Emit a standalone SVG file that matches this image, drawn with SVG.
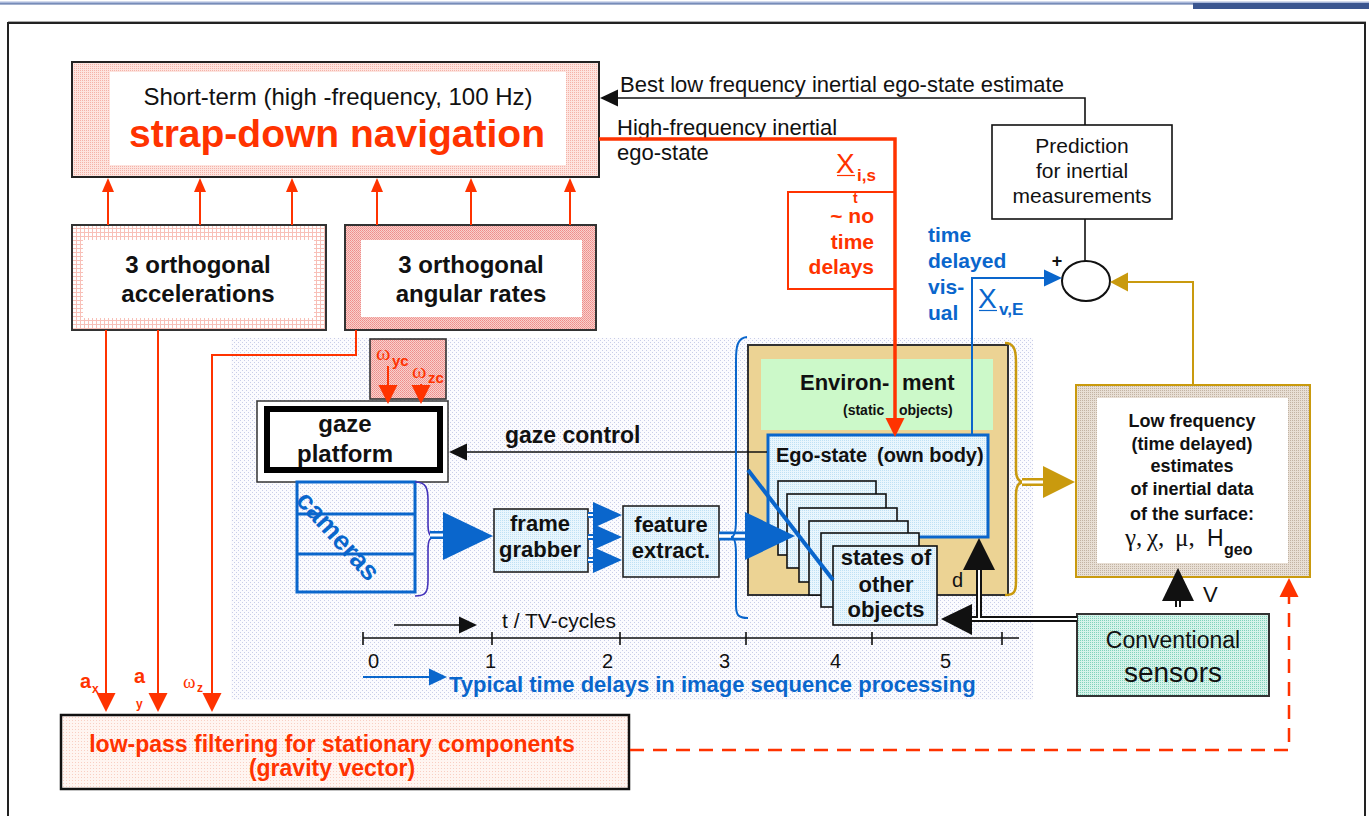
<svg xmlns="http://www.w3.org/2000/svg" width="1369" height="816" viewBox="0 0 1369 816">
<style>
text { font-family: "Liberation Sans", Arial, sans-serif; fill: #111; }
.b { font-weight: bold; }
.red { fill: #ff3300; }
.blue { fill: #0a66cc; }
.c { text-anchor: middle; }
.e { text-anchor: end; }
.serif { font-family: "Liberation Serif", "Times New Roman", serif; }
.box { stroke: #222; stroke-width: 2; }
.rl { fill: none; stroke: #ff3300; stroke-width: 2; }
.bk { fill: none; stroke: #111; stroke-width: 1.6; }
</style>
<defs>
<pattern id="pPinkL" width="2" height="2" patternUnits="userSpaceOnUse"><rect width="2" height="2" fill="#fde4df"/><rect width="1" height="1" fill="#f4b2a8"/></pattern>
<pattern id="pPinkD" width="2" height="2" patternUnits="userSpaceOnUse"><rect width="2" height="2" fill="#f9d0cc"/><rect width="1" height="1" fill="#ee8d8b"/><rect x="1" y="1" width="1" height="1" fill="#f09c98"/></pattern>
<pattern id="pGrid" width="4" height="4" patternUnits="userSpaceOnUse"><rect width="4" height="4" fill="#fff"/><rect width="4" height="1" fill="#f8c0b8"/><rect width="1" height="4" fill="#f8c0b8"/></pattern>
<pattern id="pBg" width="4" height="4" patternUnits="userSpaceOnUse"><rect width="4" height="4" fill="#fbfbfe"/><rect width="1" height="1" fill="#c8cde8"/><rect x="2" y="2" width="1" height="1" fill="#c8cde8"/></pattern>
<pattern id="pBlue" width="2" height="2" patternUnits="userSpaceOnUse"><rect width="2" height="2" fill="#eaf6fd"/><rect width="1" height="1" fill="#bfe1f4"/></pattern>
<pattern id="pTeal" width="2" height="2" patternUnits="userSpaceOnUse"><rect width="2" height="2" fill="#d6f3ea"/><rect width="1" height="1" fill="#80d3bb"/></pattern>
<pattern id="pBeige" width="2" height="2" patternUnits="userSpaceOnUse"><rect width="2" height="2" fill="#e8dfd5"/><rect width="1" height="1" fill="#c2b3a3"/></pattern>
<pattern id="pLow" width="3" height="3" patternUnits="userSpaceOnUse"><rect width="3" height="3" fill="#fff5f1"/><rect width="1" height="1" fill="#f9cfc3"/></pattern>
<marker id="aRed" markerUnits="userSpaceOnUse" markerWidth="14" markerHeight="12" refX="1" refY="6" orient="auto" overflow="visible"><path d="M0,0 L14,6 L0,12 z" fill="#ff3300"/></marker>
<marker id="aRedL" markerUnits="userSpaceOnUse" markerWidth="19" markerHeight="19" refX="1" refY="9.5" orient="auto" overflow="visible"><path d="M0,0 L19,9.5 L0,19 z" fill="#ff3300"/></marker>
<marker id="aBlk" markerUnits="userSpaceOnUse" markerWidth="18" markerHeight="17" refX="1" refY="8.5" orient="auto" overflow="visible"><path d="M0,0 L18,8.5 L0,17 z" fill="#111"/></marker>
<marker id="aBlue" markerUnits="userSpaceOnUse" markerWidth="18" markerHeight="17" refX="1" refY="8.5" orient="auto" overflow="visible"><path d="M0,0 L18,8.5 L0,17 z" fill="#0a66cc"/></marker>
<marker id="aGold" markerUnits="userSpaceOnUse" markerWidth="18" markerHeight="19" refX="1" refY="9.5" orient="auto" overflow="visible"><path d="M0,0 L18,9.5 L0,19 z" fill="#c99a0e"/></marker>
</defs>

<!-- page frame -->
<rect width="1369" height="816" fill="#fff"/>
<line x1="0" y1="2.2" x2="1369" y2="2.2" stroke="#a9b8da" stroke-width="1.5"/>
<line x1="0" y1="3.8" x2="1369" y2="3.8" stroke="#4a66a0" stroke-width="1.2"/>
<rect x="1193" y="3" width="176" height="6" fill="#3b5690"/>
<line x1="8" y1="21.5" x2="1366" y2="21.5" stroke="#aaa" stroke-width="1"/>
<path d="M8,816 V23 H1365 V816" fill="none" stroke="#222" stroke-width="2"/>

<!-- dotted background region -->
<rect x="231" y="338" width="802" height="362" fill="url(#pBg)"/>

<g id="strapdown">
<rect x="72" y="62" width="527" height="115" fill="url(#pPinkL)" class="box"/>
<rect x="110" y="72" width="456" height="93" fill="#fff"/>
<text x="338" y="105" class="c" font-size="24">Short-term (high -frequency, 100 Hz)</text>
<text x="337" y="147" class="c b red" font-size="39">strap-down navigation</text>
</g>

<g id="accelerations">
<rect x="72" y="225" width="254" height="105" fill="url(#pGrid)" stroke="#333" stroke-width="2"/>
<rect x="83" y="240" width="231" height="78" fill="#fff"/>
<text x="198" y="273" class="c b" font-size="24">3 orthogonal</text>
<text x="198" y="302" class="c b" font-size="24">accelerations</text>
</g>

<g id="angular-rates">
<rect x="345" y="225" width="251" height="105" fill="url(#pPinkD)" stroke="#333" stroke-width="2"/>
<rect x="361" y="240" width="221" height="77" fill="#fff"/>
<text x="471" y="273" class="c b" font-size="24">3 orthogonal</text>
<text x="471" y="302" class="c b" font-size="24">angular rates</text>
</g>

<g id="prediction">
<rect x="992" y="125" width="180" height="94" fill="#fff" stroke="#111" stroke-width="1.6"/>
<text x="1082" y="153" class="c" font-size="21">Prediction</text>
<text x="1082" y="178" class="c" font-size="21">for inertial</text>
<text x="1082" y="203" class="c" font-size="21">measurements</text>
</g>

<g id="sum-junction">
<ellipse cx="1086" cy="281" rx="24" ry="20" fill="#fff" stroke="#111" stroke-width="2"/>
<text x="1057" y="267" class="c b" font-size="18">+</text>
</g>

<g id="omega-box">
<rect x="370" y="339" width="76" height="60" fill="url(#pPinkD)" stroke="#333" stroke-width="1.6"/>
<text x="376" y="360" class="serif red" font-size="22">ω</text>
<text x="392" y="366" class="b red" font-size="15">yc</text>
<text x="412" y="378" class="serif red" font-size="22">ω</text>
<text x="428" y="383" class="b red" font-size="15">zc</text>
</g>

<g id="gaze-platform">
<rect x="257" y="401" width="191" height="81" fill="#fff" stroke="#333" stroke-width="1.5"/>
<rect x="267" y="409" width="173" height="61" fill="#fff" stroke="#000" stroke-width="6"/>
<text x="345" y="432" class="c b" font-size="24">gaze</text>
<text x="345" y="462" class="c b" font-size="24">platform</text>
</g>

<g id="cameras">
<rect x="297" y="482" width="118" height="110" fill="none" stroke="#0a66cc" stroke-width="3"/>
<line x1="297" y1="514" x2="415" y2="514" stroke="#0a66cc" stroke-width="3"/>
<line x1="297" y1="554" x2="415" y2="554" stroke="#0a66cc" stroke-width="3"/>
<text transform="translate(338,536) rotate(48)" x="0" y="9" class="c b blue" font-size="27">cameras</text>
<path d="M415,482 C426,482 428,488 428,500 V525 C428,533 430,537 434,537 C430,537 428,541 428,549 V580 C428,592 426,596 415,596" fill="none" stroke="#4433bb" stroke-width="1.6"/>
</g>

<g id="frame-grabber">
<rect x="494" y="509" width="94" height="63" fill="url(#pBlue)" stroke="#222" stroke-width="1.6"/>
<text x="540" y="531" class="c b" font-size="22">frame</text>
<text x="540" y="557" class="c b" font-size="22">grabber</text>
</g>

<g id="feature-extract">
<rect x="623" y="506" width="96" height="71" fill="url(#pBlue)" stroke="#222" stroke-width="1.6"/>
<text x="671" y="532" class="c b" font-size="22">feature</text>
<text x="671" y="558" class="c b" font-size="22">extract.</text>
</g>

<g id="environment">
<rect x="748" y="345" width="260" height="250" fill="#ecd394" stroke="#333" stroke-width="2"/>
<rect x="761" y="359" width="232" height="71" fill="#ccf9c9"/>
<text x="800" y="390" class="b" font-size="22">Environ-</text>
<text x="902" y="390" class="b" font-size="22">ment</text>
<text x="843" y="415" class="b" font-size="14">(static</text>
<text x="899" y="415" class="b" font-size="14">objects)</text>
<text x="952" y="587" font-size="20">d</text>
</g>

<g id="ego-state">
<rect x="768" y="435" width="220" height="102" fill="url(#pBlue)" stroke="#0a66cc" stroke-width="3"/>
<text x="776" y="462" class="b" font-size="20">Ego-state</text>
<text x="877" y="462" class="b" font-size="20">(own body)</text>
</g>

<g id="other-objects">
<rect x="778" y="481" width="98" height="74" fill="url(#pBlue)" stroke="#111" stroke-width="1.6"/>
<rect x="787" y="494" width="99" height="74" fill="url(#pBlue)" stroke="#111" stroke-width="1.6"/>
<rect x="799" y="508" width="98" height="74" fill="url(#pBlue)" stroke="#111" stroke-width="1.6"/>
<rect x="809" y="521" width="99" height="74" fill="url(#pBlue)" stroke="#111" stroke-width="1.6"/>
<rect x="821" y="533" width="98" height="74" fill="url(#pBlue)" stroke="#111" stroke-width="1.6"/>
<rect x="833" y="546" width="104" height="79" fill="url(#pBlue)" stroke="#111" stroke-width="1.6"/>
<text x="886" y="565" class="c b" font-size="22">states of</text>
<text x="886" y="592" class="c b" font-size="22">other</text>
<text x="886" y="617" class="c b" font-size="22">objects</text>
</g>

<g id="low-frequency">
<rect x="1076" y="385" width="234" height="192" fill="url(#pBeige)" stroke="#c99a0e" stroke-width="2"/>
<rect x="1097" y="398" width="191" height="165" fill="#fff"/>
<text x="1192" y="427" class="c b" font-size="18">Low frequency</text>
<text x="1192" y="450" class="c b" font-size="18">(time delayed)</text>
<text x="1192" y="472" class="c b" font-size="18">estimates</text>
<text x="1192" y="495" class="c b" font-size="18">of inertial data</text>
<text x="1192" y="520" class="c b" font-size="18">of the surface:</text>
<text y="546" class="serif" font-size="25"><tspan x="1125">γ,</tspan><tspan x="1147">χ,</tspan><tspan x="1175">μ,</tspan></text>
<text x="1207" y="546" font-size="23">H</text>
<text x="1224" y="555" class="b" font-size="16">geo</text>
</g>

<g id="conventional-sensors">
<rect x="1077" y="614" width="192" height="82" fill="url(#pTeal)" stroke="#333" stroke-width="2"/>
<text x="1173" y="648" class="c" font-size="23">Conventional</text>
<text x="1173" y="682" class="c" font-size="28">sensors</text>
</g>

<g id="low-pass">
<rect x="61" y="715" width="568" height="74" fill="url(#pLow)" stroke="#111" stroke-width="2.5"/>
<text x="332" y="752" class="c b red" font-size="23">low-pass filtering for stationary components</text>
<text x="332" y="776" class="c b red" font-size="23">(gravity vector)</text>
</g>

<g id="timeline">
<path d="M363,638 H1019 M363,632 V645 M492,632 V645 M620,632 V645 M746,632 V645 M872,632 V645 M1002,632 V645" class="bk"/>
<text x="368" y="668" font-size="20">0</text>
<text x="485" y="668" font-size="20">1</text>
<text x="602" y="668" font-size="20">2</text>
<text x="719" y="668" font-size="20">3</text>
<text x="830" y="668" font-size="20">4</text>
<text x="940" y="668" font-size="20">5</text>
<path d="M394,625 H460" class="bk" marker-end="url(#aBlk)"/>
<text x="502" y="628" font-size="21">t / TV-cycles</text>
<path d="M363,677 H430" fill="none" stroke="#0a66cc" stroke-width="1.8" marker-end="url(#aBlue)"/>
<text x="449" y="692" class="b blue" font-size="22">Typical time delays in image sequence processing</text>
</g>

<g id="connectors">
<!-- into strap-down -->
<path d="M108,225 V191" class="rl" marker-end="url(#aRed)"/>
<path d="M200,225 V191" class="rl" marker-end="url(#aRed)"/>
<path d="M292,225 V191" class="rl" marker-end="url(#aRed)"/>
<path d="M377,225 V191" class="rl" marker-end="url(#aRed)"/>
<path d="M471,225 V191" class="rl" marker-end="url(#aRed)"/>
<path d="M570,225 V191" class="rl" marker-end="url(#aRed)"/>
<!-- to low-pass -->
<path d="M106,330 V694" class="rl" marker-end="url(#aRedL)"/>
<path d="M158,330 V694" class="rl" marker-end="url(#aRedL)"/>
<path d="M356,330 V355 H212 V694" class="rl" marker-end="url(#aRedL)"/>
<text x="80" y="688" class="b red" font-size="20">a</text>
<text x="92" y="693" class="b red" font-size="12">x</text>
<text x="134" y="683" class="b red" font-size="20">a</text>
<text x="136" y="708" class="b red" font-size="12">y</text>
<text x="183" y="688" class="serif red" font-size="19">ω</text>
<text x="197" y="692" class="b red" font-size="12">z</text>
<!-- omega arrows -->
<path d="M388,366 V386" class="rl" marker-end="url(#aRedL)"/>
<path d="M421,384 V386" class="rl" marker-end="url(#aRedL)"/>
<!-- best estimate -->
<path d="M1085,125 V98 H617" class="bk" marker-end="url(#aBlk)"/>
<text x="620" y="92" font-size="22">Best low frequency inertial ego-state estimate</text>
<!-- high-frequency ego-state -->
<text x="617" y="135" font-size="22">High-frequency inertial</text>
<text x="617" y="160" font-size="22">ego-state</text>
<rect x="788" y="192" width="107" height="97" fill="none" stroke="#ff3300" stroke-width="2"/>
<path d="M599,139 H895 V419" fill="none" stroke="#ff3300" stroke-width="3.5" marker-end="url(#aRedL)"/>
<text x="836" y="173" class="red" font-size="28">X</text>
<line x1="837" y1="175.5" x2="855" y2="175.5" stroke="#ff3300" stroke-width="1.2"/>
<text x="857" y="181" class="b red" font-size="17">i,s</text>
<text x="853" y="203" class="b red" font-size="14">t</text>
<text x="874" y="223" class="e b red" font-size="21">~ no</text>
<text x="874" y="249" class="e b red" font-size="21">time</text>
<text x="874" y="274" class="e b red" font-size="21">delays</text>
<!-- visual estimate -->
<path d="M972,435 V278 H1045" fill="none" stroke="#0a66cc" stroke-width="2" marker-end="url(#aBlue)"/>
<text x="928" y="242" class="b blue" font-size="21">time</text>
<text x="928" y="268" class="b blue" font-size="21">delayed</text>
<text x="928" y="294" class="b blue" font-size="21">vis-</text>
<text x="928" y="320" class="b blue" font-size="21">ual</text>
<text x="978" y="308" class="blue" font-size="28">X</text>
<line x1="979" y1="310.5" x2="997" y2="310.5" stroke="#0a66cc" stroke-width="1.2"/>
<text x="999" y="315" class="b blue" font-size="17">v,E</text>
<!-- prediction to junction -->
<path d="M1085,219 V261" class="bk"/>
<!-- low frequency to junction -->
<path d="M1193,385 V282 H1127" fill="none" stroke="#c99a0e" stroke-width="2" marker-end="url(#aGold)"/>
<!-- gaze control -->
<path d="M767,452 H466" class="bk" marker-end="url(#aBlk)"/>
<text x="505" y="443" class="b" font-size="23">gaze control</text>
<!-- cameras to frame grabber -->
<path d="M430,535 H446" fill="none" stroke="#0a66cc" stroke-width="8"/>
<path d="M430,535 H446" fill="none" stroke="#fff" stroke-width="3"/>
<polygon points="443,512 493,536 443,560" fill="#0a66cc"/>
<!-- frame grabber to feature extract -->
<path d="M588,515 H596 M588,537 H596 M588,560 H596" fill="none" stroke="#0a66cc" stroke-width="6"/>
<path d="M588,515 H596 M588,537 H596 M588,560 H596" fill="none" stroke="#fff" stroke-width="2"/>
<polygon points="593,502 622,515 593,528" fill="#0a66cc"/>
<polygon points="593,524 622,537 593,550" fill="#0a66cc"/>
<polygon points="593,547 622,560 593,573" fill="#0a66cc"/>
<!-- feature extract to scene -->
<path d="M719,536 H748" fill="none" stroke="#0a66cc" stroke-width="9"/>
<path d="M719,536 H748" fill="none" stroke="#fff" stroke-width="3.5"/>
<path d="M747,337 C738,338 736,345 736,360 V520 C736,532 734,537 731,537 C734,537 736,542 736,554 V605 C736,615 738,618 748,618" fill="none" stroke="#0a66cc" stroke-width="2"/>
<polygon points="745,512 795,536 745,560" fill="#0a66cc"/>
<line x1="748" y1="470" x2="833" y2="580" stroke="#0a66cc" stroke-width="4"/>
<!-- scene to low frequency -->
<path d="M1005,343 C1014,343 1016,350 1016,362 V470 C1016,478 1019,482 1024,482 C1019,482 1016,486 1016,494 V582 C1016,592 1014,595 1005,595" fill="none" stroke="#c99a0e" stroke-width="2.5"/>
<path d="M1022,482 H1046" fill="none" stroke="#c99a0e" stroke-width="8"/>
<path d="M1022,482 H1046" fill="none" stroke="#fff" stroke-width="3"/>
<polygon points="1043,466 1075,482 1043,498" fill="#c99a0e"/>
<!-- conventional sensors -->
<path d="M1077,619 H970 M979,619 V568" fill="none" stroke="#111" stroke-width="6"/>
<path d="M1077,619 H970 M979,619 V568" fill="none" stroke="#fff" stroke-width="2"/>
<polygon points="972,604 941,619 972,635" fill="#111"/>
<polygon points="963,570 979,538 995,570" fill="#111"/>
<path d="M1178,599 V607" fill="none" stroke="#111" stroke-width="6"/>
<path d="M1178,599 V607" fill="none" stroke="#fff" stroke-width="2"/>
<polygon points="1162,601 1178,568 1194,601" fill="#111"/>
<text x="1203" y="602" font-size="22">V</text>
<!-- gravity vector to low frequency -->
<path d="M630,750 H1289 V596" fill="none" stroke="#ff3300" stroke-width="2.5" stroke-dasharray="14 9" marker-end="url(#aRedL)"/>
</g>
</svg>
